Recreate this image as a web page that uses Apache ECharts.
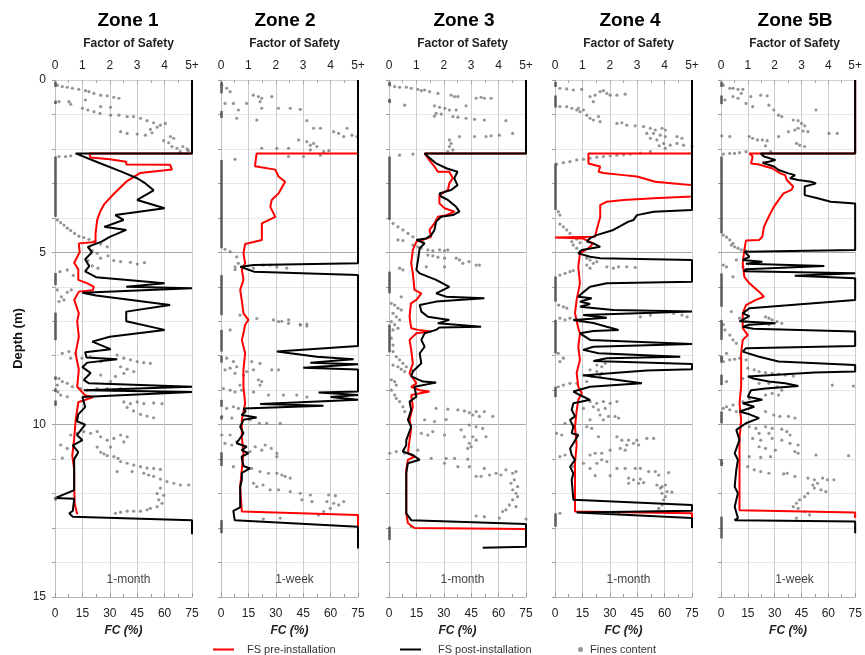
<!DOCTYPE html>
<html>
<head>
<meta charset="utf-8">
<title>Zones FS / FC profiles</title>
<script src="https://cdn.jsdelivr.net/npm/echarts@6/dist/echarts.min.js"></script>
<style>
  html, body { margin: 0; padding: 0; background: #fff; }
  #main { width: 865px; height: 655px; }
</style>
</head>
<body>
<div id="main"></div>
<script>
// ---- data: [FS, depth] for lines, [FC %, depth] for dots, [top, bottom] depth for FC = 0 runs ----
const zoneNames = ['Zone 1', 'Zone 2', 'Zone 3', 'Zone 4', 'Zone 5B'];
const periods = ['1-month', '1-week', '1-month', '1-month', '1-week'];
const fsTicks = [0, 1, 2, 3, 4, '5+'];
const fcTicks = [0, 15, 30, 45, 60, 75];
const depthTicks = [0, 5, 10, 15];

const zone1Pre = [[5,0],[5,2.13],[1.25,2.13],[1.3,2.25],[2.0,2.3],[2.6,2.37],[2.6,2.45],[4.2,2.46],[4.27,2.6],[3.1,2.7],[2.6,2.95],[2.15,3.3],[1.8,3.6],[1.66,3.8],[1.54,4.06],[1.48,4.45],[1.48,4.7],[0.87,4.74],[0.9,5.0],[0.7,5.3],[0.85,5.5],[0.85,5.8],[1.18,5.9],[1.42,6.0],[1.38,6.1],[0.87,6.14],[0.7,6.38],[0.87,6.77],[0.81,7.0],[0.87,7.45],[0.75,7.93],[0.87,8.4],[0.81,8.9],[1.1,9.15],[1.4,9.2],[0.85,9.35],[0.75,9.9],[0.7,10.4],[0.63,10.9],[0.7,11.3],[0.7,11.8],[0.72,12.3],[0.81,12.6]];
const zone1Post = [[5,0],[5,2.13],[0.75,2.13],[1.6,2.4],[2.4,2.65],[3.0,2.85],[3.3,3.0],[3.6,3.2],[3.0,3.48],[4.0,3.72],[2.2,3.92],[2.5,4.06],[1.8,4.26],[2.6,4.35],[2.0,4.55],[1.7,4.69],[1.2,4.84],[1.35,5.0],[1.1,5.2],[1.25,5.4],[1.1,5.55],[1.5,5.72],[4.0,5.9],[2.6,6.0],[5,6.04],[1.0,6.17],[1.5,6.25],[4.2,6.53],[2.6,6.72],[2.6,7.0],[4.0,7.25],[2.0,7.45],[1.36,7.59],[2.03,7.81],[1.1,7.9],[1.15,8.05],[2.27,8.1],[1.18,8.2],[1.0,8.33],[1.3,8.5],[1.05,8.7],[1.24,8.8],[5,8.9],[1.05,9.0],[5,9.05],[1.0,9.2],[1.1,9.49],[0.85,9.7],[0.8,9.9],[1.1,10.0],[0.8,10.3],[1.0,10.45],[0.65,10.6],[0.85,10.8],[0.7,11.0],[0.7,11.5],[0.7,11.9],[0,12.13],[0.7,12.15],[0.65,12.5],[0.52,12.57],[0.65,12.67],[5,12.77],[5,13.18]];
const zone1Fc = [[1.3,0.15],[4,0.19],[6.7,0.21],[9.5,0.24],[13,0.27],[16.7,0.31],[18.6,0.34],[21.3,0.39],[25,0.44],[28.6,0.46],[32.2,0.5],[35,0.53],[2.2,0.63],[7.6,0.63],[8.6,0.7],[16.7,0.58],[15,0.82],[18,0.87],[21.3,0.92],[25,0.77],[30.4,0.79],[24.6,0.97],[30.4,1.02],[35,1.02],[39.5,1.06],[43,1.06],[46.8,1.11],[50.4,1.18],[54,1.24],[57.7,1.31],[60.4,1.26],[55.9,1.37],[52.2,1.43],[35.9,1.5],[39.5,1.55],[45,1.57],[49.5,1.6],[53.1,1.53],[63.2,1.64],[65,1.69],[59.5,1.76],[62.2,1.82],[64,1.93],[66.8,1.98],[70,1.93],[72.3,2.0],[73,2.05],[68.6,2.08],[2.2,2.22],[5.8,2.22],[8.6,2.2],
  [1.3,4.06],[3.1,4.14],[4.9,4.21],[6.7,4.3],[8.6,4.37],[10.7,4.45],[13.1,4.53],[15.8,4.57],[18.6,4.62],[21.3,4.69],[25,4.76],[28.6,4.84],[18.6,4.86],[20.4,4.95],[23.1,5.03],[25,5.17],[29,5.1],[32.2,5.24],[35.9,5.27],[41.3,5.29],[45,5.34],[49,5.3],[18,5.24],[20.4,5.39],[23.5,5.46],[2.7,5.56],[6.7,5.51],[10,5.67],[1.3,6.09],[6.7,6.16],[8.9,6.09],[3.5,6.29],[4.9,6.38],[2.2,6.43],
  [7.6,7.88],[4,7.93],[8.6,8.07],[11.3,7.93],[14.8,8.07],[19.3,8.03],[25,8.17],[30.4,8.12],[34,7.98],[37.7,8.07],[41.3,8.12],[45,8.17],[48.6,8.2],[52.2,8.22],[35.9,8.32],[39.5,8.39],[43.1,8.46],[37.7,8.51],[33.1,8.6],[30.4,8.75],[25,8.56],[2.2,8.66],[4,8.75],[1.3,8.85],[6.7,8.8],[9.5,8.9],[14,8.95],[17.7,9.0],[23,8.95],[28.6,8.95],[32.2,9.0],[35.9,8.95],[39.5,9.0],[43.1,9.0],[1.6,9.05],[3.1,9.14],[6.7,9.19],[37.7,9.34],[41.3,9.39],[45,9.34],[48.6,9.39],[54,9.37],[58.6,9.39],[39.5,9.5],[43,9.6],[46.8,9.7],[50.4,9.75],[54,9.8],
  [12.2,10.25],[15.8,10.2],[19.5,10.25],[23.1,10.2],[25,10.35],[28.6,10.45],[32.2,10.4],[35.9,10.3],[39.5,10.35],[37.7,10.5],[30.4,10.65],[8.6,10.3],[3.1,10.59],[6.7,10.69],[4,10.97],[23.1,10.65],[25,10.8],[26.8,10.85],[28.6,10.9],[32.2,10.93],[34.5,10.98],[35.9,11.07],[39.5,11.12],[43.1,11.17],[46.8,11.22],[50.4,11.26],[54,11.27],[57.7,11.3],[34,11.36],[42.2,11.36],[48.6,11.41],[51.3,11.46],[54,11.5],[57.7,11.58],[61.3,11.65],[65,11.7],[68.6,11.75],[73.2,11.75],[57.7,11.84],[55.9,12.0],[59.5,12.05],[56.8,12.18],[58.6,12.28],[55.9,12.38],[52.2,12.43],[50.4,12.47],[46.8,12.51],[43.1,12.51],[39.5,12.51],[35.9,12.54],[33.1,12.57]];
const zone1Zero = [[0.05,0.2],[0.6,0.7],[2.22,3.97],[5.6,5.95],[6.75,7.55],[8.6,8.7],[8.95,9.05],[9.3,9.45],[12.1,12.2]];

const zone2Pre = [[5,0],[5,2.13],[1.3,2.13],[1.24,2.5],[1.98,2.6],[2.1,2.8],[2.34,2.95],[2.1,3.29],[1.85,3.48],[1.8,3.68],[1.98,3.97],[1.49,4.16],[1.49,4.64],[0.88,4.76],[0.82,5.03],[0.88,5.32],[0.76,5.5],[0.82,5.8],[0.7,6.09],[0.76,6.4],[0.82,6.77],[1.0,6.96],[0.88,7.1],[0.82,7.35],[0.76,7.54],[0.88,7.93],[0.82,8.4],[0.82,8.9],[0.88,9.38],[0.76,9.86],[0.76,10.35],[0.82,10.83],[0.76,11.3],[0.7,11.8],[0.76,12.52],[5,12.62],[5,12.95]];
const zone2Post = [[5,0],[5,5.32],[1.2,5.37],[0.7,5.42],[1.2,5.56],[5,5.66],[5,7.72],[2.04,7.88],[1.98,7.93],[3.5,8.03],[4.84,8.1],[3.26,8.2],[5,8.25],[3.0,8.35],[5,8.4],[5,9.04],[3.56,9.07],[5,9.14],[4.0,9.2],[5,9.28],[5,9.33],[1.43,9.4],[3.74,9.45],[0.82,9.53],[0.9,9.62],[0.75,9.72],[1.3,9.79],[0.82,9.86],[0.7,10.06],[0.82,10.25],[0.57,10.54],[0.94,10.64],[0.75,10.74],[1.0,10.83],[0.75,10.93],[0.82,11.2],[1.06,11.27],[0.76,11.4],[0.76,11.6],[0.7,11.8],[0.7,12.4],[0.45,12.5],[0.5,12.77],[5,12.96],[5,13.59]];
const zone2Fc = [[0.4,0.15],[3.1,0.24],[5,0.34],[2.2,0.68],[6.8,0.68],[9.5,0.87],[8.6,1.11],[14,0.68],[17.7,0.44],[20.5,0.48],[22.3,0.53],[21.4,0.63],[27.8,0.48],[22.3,0.82],[19.6,1.16],[31.5,0.82],[37.9,0.82],[43.4,0.85],[47,1.18],[50.7,1.4],[54.4,1.4],[61.7,1.5],[64.4,1.55],[67.2,1.64],[69,1.4],[71.7,1.6],[74.5,1.64],[42.5,1.74],[47,1.79],[48.9,1.89],[50.7,1.84],[52.5,1.93],[48.9,2.03],[56.2,2.08],[59,2.05],[54.4,2.18],[37,1.98],[37,2.22],[45.2,2.22],[30.6,1.98],[22.3,1.98],[7.7,2.3],
  [2.2,4.91],[5,4.98],[8.6,5.13],[7.7,5.42],[9.5,5.32],[23.2,5.37],[26.9,5.37],[30.6,5.42],[36,5.46],[7.7,5.5],[17.8,5.46],[10.4,6.82],[19.6,6.92],[28.7,6.96],[33.3,7.0],[37,6.96],[43.4,7.1],[47,7.08],
  [5,7.25],[31.5,7.01],[37,7.06],[43.4,7.11],[47,7.14],[3.1,8.07],[6.8,8.17],[8.6,8.32],[5,8.36],[2.2,8.41],[7.7,8.51],[12.3,8.56],[14.1,8.46],[17.8,8.41],[16.8,8.17],[21.4,8.22],[27.8,8.41],[31.5,8.41],[22.3,8.75],[21.4,8.85],[20.5,8.7],[10.4,8.85],[1.3,8.95],[5,9.0],[7.7,9.05],[11.3,9.0],[17.8,9.05],[26,9.14],[34.2,9.14],[41.5,9.14],[47,9.2],[6.8,9.48],[3.1,9.53],[9.5,9.53],[0.4,9.76],[5.9,9.81],[15.9,9.86],[21,9.96],[25,9.96],[32.4,9.96],
  [0.4,10.3],[5,10.3],[8.6,10.49],[2.2,10.54],[5.9,10.59],[18.7,10.64],[22.3,10.74],[15.9,10.78],[24.2,10.59],[27.5,10.69],[30.6,10.83],[30.6,10.93],[6.8,11.22],[16.8,11.27],[21.4,11.36],[26,11.41],[30.6,11.41],[33.3,11.46],[35.1,11.5],[37.9,11.55],[17.8,11.7],[19.6,11.8],[23,11.75],[26.9,11.89],[31.5,11.89],[37.9,11.94],[43.4,11.99],[48.9,12.04],[44.3,12.18],[49.8,12.23],[58.9,12.04],[62.6,12.06],[58,12.23],[61.7,12.28],[64.4,12.33],[67.2,12.23],[59.8,12.43],[56.2,12.52],[53.4,12.62],[32.4,12.71],[23.2,12.74]];
const zone2Zero = [[0.05,0.39],[0.9,1.1],[2.32,4.88],[5.66,6.82],[7.25,7.88],[8.0,8.2],[9.28,9.48],[9.75,9.85],[10.8,11.2],[12.77,13.15]];

const zone3Pre = [[5,0],[5,2.13],[1.3,2.13],[1.45,2.3],[1.66,2.51],[1.78,2.66],[2.2,2.66],[2.33,2.85],[2.2,3.0],[2.15,3.19],[1.84,3.34],[1.84,3.58],[2.03,3.72],[2.39,3.82],[2.09,3.92],[1.78,3.97],[1.66,4.16],[1.48,4.35],[1.54,4.55],[1.24,4.64],[1.0,4.69],[0.87,4.93],[0.81,5.32],[0.87,5.61],[0.93,6.09],[1.18,6.19],[1.0,6.38],[0.8,6.48],[0.75,6.87],[0.81,7.2],[1.06,7.25],[1.54,7.3],[1.0,7.35],[0.75,7.54],[0.81,7.83],[0.87,8.22],[0.75,8.51],[1.0,8.8],[0.81,8.9],[1.12,9.0],[1.48,9.04],[0.81,9.14],[0.87,9.48],[0.75,9.86],[0.81,10.1],[0.75,10.45],[0.69,10.83],[0.93,10.93],[0.69,11.02],[0.63,11.3],[0.63,11.8],[0.63,12.57],[0.69,12.86],[0.93,13.0],[5,13.03]];
const zone3Post = [[5,0],[5,2.13],[1.3,2.13],[1.42,2.22],[1.72,2.42],[2.09,2.56],[2.5,2.66],[2.38,2.85],[2.5,3.05],[2.27,3.19],[1.84,3.29],[1.9,3.38],[2.15,3.48],[2.45,3.68],[2.57,3.82],[2.33,3.92],[1.9,3.97],[1.72,4.11],[1.66,4.35],[1.54,4.5],[1.35,4.6],[1.0,4.64],[1.3,4.74],[1.12,4.88],[1.06,5.22],[1.0,5.51],[1.12,5.61],[1.72,5.8],[2.2,6.0],[1.72,6.19],[2.09,6.29],[3.48,6.33],[1.72,6.43],[1.12,6.53],[1.18,6.72],[1.42,6.87],[2.2,6.96],[1.78,7.06],[3.36,7.16],[1.84,7.18],[1.72,7.25],[1.3,7.35],[1.18,7.54],[1.3,7.74],[1.12,7.93],[1.18,8.22],[0.87,8.46],[0.81,8.6],[1.24,8.75],[1.72,8.78],[0.93,8.9],[1.0,9.19],[0.75,9.33],[0.81,9.57],[0.69,9.86],[0.81,10.06],[0.63,10.45],[0.63,10.6],[0.5,10.78],[0.87,10.88],[1.12,11.02],[0.69,11.12],[0.63,11.4],[0.63,11.8],[0.63,12.57],[0.81,12.77],[5,12.88],[5,13.54],[3.42,13.57]];
const zone3Fc = [[0.4,0.15],[3.1,0.19],[5.8,0.21],[9.5,0.21],[12.2,0.24],[15.8,0.27],[17.7,0.31],[19.5,0.29],[22.2,0.34],[26.8,0.39],[34,0.44],[35.9,0.48],[37.7,0.48],[47.7,0.53],[50.4,0.5],[52.2,0.53],[55.9,0.53],[0.4,0.63],[8.6,0.73],[24.9,0.75],[27.7,0.79],[30.6,0.82],[33.1,0.87],[36.8,0.87],[42.2,0.75],[25.8,0.97],[28.6,0.99],[24.9,1.05],[35,1.06],[37.7,1.08],[42.2,1.11],[46.8,1.14],[52.2,1.16],[64,1.18],[53.1,1.64],[55.9,1.62],[60.4,1.6],[67.7,1.55],[38.6,1.64],[46.8,1.64],[33.1,1.74],[34,1.84],[33.1,1.93],[35,2.03],[32.2,2.08],[5.8,2.18],[13.1,2.15],
  [2.2,4.16],[4.9,4.26],[7.6,4.35],[10.4,4.45],[13.1,4.55],[15.8,4.64],[18.6,4.72],[4.9,4.64],[7.6,4.66],[13.1,4.79],[15.8,4.84],[17.7,4.88],[21.3,4.93],[24,4.95],[27.7,4.93],[30.4,4.95],[32.2,4.93],[21.3,5.08],[24,5.1],[26.8,5.14],[30.4,5.17],[36.8,5.17],[38.6,5.22],[40.4,5.32],[43.8,5.27],[47.7,5.37],[49.5,5.37],[20.4,5.42],[30.4,5.42],[7.6,5.51],[5.8,5.46],
  [6.7,6.29],[1.3,6.48],[3.1,6.53],[4.9,6.62],[6.7,6.67],[2.2,6.77],[4,6.87],[5.8,6.96],[1.3,7.01],[3.1,7.1],[4.9,7.2],[2.2,7.25],[1.3,7.49],[2.2,7.69],[2.2,7.88],[4,8.03],[5.8,8.12],[7.6,8.22],[9.5,8.32],[12.2,8.41],[2.2,8.27],[4.9,8.32],[6.7,8.39],[8.6,8.46],[1.3,8.7],[3.1,8.75],[4,8.85],[1.3,9.0],[3.1,9.14],[4,9.24],[5.8,9.33],[7.6,9.48],[8.6,9.62],
  [25.8,9.53],[32.2,9.55],[37.7,9.57],[41.3,9.6],[44,9.65],[47.7,9.62],[52.2,9.62],[45.9,9.72],[49.5,9.76],[56.8,9.76],[19.5,9.86],[24.9,9.91],[31.3,9.85],[44,10.01],[47.7,10.06],[51.3,10.11],[17.7,10.25],[21.3,10.3],[24,10.2],[30.4,10.3],[39.5,10.15],[41.3,10.35],[45.9,10.35],[53.1,10.35],[47.7,10.45],[44,10.54],[43.1,10.69],[45,10.64],[0.4,10.83],[4,10.78],[8.6,10.83],[15.8,10.74],[23.1,10.98],[31.3,10.98],[35.9,10.98],[43.1,11.0],[30.4,11.12],[37.7,11.22],[44,11.22],[52.2,11.27],[47.7,11.5],[50.4,11.5],[55,11.46],[58.6,11.41],[61.3,11.46],[64,11.31],[67.7,11.41],[69.5,11.36],[66.8,11.7],[68.6,11.6],[70.4,11.8],[67.7,11.89],[69.5,11.99],[70.4,12.09],[67.7,12.18],[65.9,12.33],[69.5,12.38],[64,12.47],[62.2,12.52],[60.4,12.71],[52.2,12.67],[47.7,12.65],[75,12.74],[12.2,12.96]];
const zone3Zero = [[0.05,0.15],[0.55,0.65],[2.22,4.06],[5.56,6.19],[7.1,7.9],[12.96,13.35]];

const zone4Pre = [[5,0],[5,2.13],[1.22,2.13],[1.22,2.42],[1.65,2.51],[1.59,2.66],[1.77,2.7],[2.5,2.76],[2.99,2.8],[3.66,2.95],[4.33,3.0],[5,3.05],[5,3.38],[3.6,3.43],[2.5,3.48],[1.89,3.53],[1.65,3.63],[1.65,3.97],[1.52,4.35],[1.46,4.55],[0,4.57],[1.03,4.6],[1.4,4.74],[1.22,4.88],[0.91,5.03],[0.85,5.42],[0.91,5.9],[0.79,6.38],[0.73,6.77],[0.85,7.2],[0.91,7.35],[0.85,7.74],[0.91,8.12],[0.79,8.5],[0.85,8.9],[0.98,9.09],[0.85,9.28],[0.79,9.6],[0.73,10.06],[0.79,10.6],[0.73,11.1],[0.73,11.8],[0.73,12.52],[5,12.57],[5,12.77]];
const zone4Post = [[5,0],[5,3.77],[3.6,3.82],[2.99,3.92],[2.87,4.06],[2.68,4.11],[2.13,4.35],[1.52,4.5],[1.28,4.59],[1.16,4.69],[1.4,4.74],[1.65,4.84],[1.34,4.88],[0.98,4.93],[0.85,5.03],[1.28,5.13],[1.65,5.17],[5,5.22],[5,5.85],[1.89,5.9],[1.28,6.0],[0.98,6.19],[0.85,6.29],[1.34,6.33],[0.91,6.43],[1.28,6.5],[0.91,6.58],[2.13,6.67],[5,6.72],[1.03,6.82],[1.89,6.9],[0.67,6.96],[1.4,7.05],[1.89,7.16],[2.32,7.25],[1.4,7.28],[0.91,7.35],[1.28,7.54],[5,7.66],[1.4,7.74],[1.03,7.83],[1.59,7.93],[4.57,8.03],[1.89,8.07],[1.4,8.15],[5,8.24],[5,8.39],[3.35,8.43],[2.13,8.5],[1.03,8.57],[1.89,8.66],[3.17,8.8],[1.28,8.9],[0.67,9.04],[0.91,9.14],[1.28,9.28],[0.67,9.38],[0.61,9.57],[0.73,9.76],[0.55,9.86],[0.67,10.06],[0.61,10.25],[0.85,10.3],[0.67,10.54],[0.55,10.69],[0.61,10.88],[0.73,11.02],[0.55,11.22],[0.67,11.41],[0.61,11.6],[0.67,12.18],[5,12.33],[5,12.5],[0.79,12.55],[5,12.71],[5,13.0]];
const zone4Fc = [[2.7,0.24],[6.4,0.26],[10,0.29],[14.6,0.27],[19.2,0.48],[22,0.44],[24.7,0.34],[26.5,0.31],[28.4,0.39],[30.2,0.44],[33.9,0.44],[38.4,0.41],[21,0.63],[2.7,0.77],[6.4,0.77],[9.2,0.82],[11.9,0.87],[13.7,0.92],[15.6,0.87],[12.8,0.82],[17.4,1.02],[19.2,1.11],[23.8,1.06],[21,1.16],[24.7,1.21],[33.9,1.26],[36.6,1.24],[39.3,1.31],[43.9,1.33],[48.5,1.35],[52.2,1.4],[54.9,1.45],[58.6,1.4],[60.4,1.45],[50.3,1.55],[53.9,1.55],[57.6,1.6],[60.4,1.64],[52.2,1.69],[55.8,1.74],[59.5,1.84],[60.4,1.98],[66.8,1.64],[69.5,1.69],[66.8,1.84],[70.4,1.89],[75,1.93],[57,1.91],[63.1,1.89],
  [0.9,2.44],[4.6,2.4],[8.2,2.37],[11.9,2.32],[15.6,2.3],[19.2,2.27],[22.9,2.24],[26.5,2.22],[30.2,2.2],[33.9,2.18],[37.5,2.17],[41.2,2.15],[46.7,2.12],[52.2,2.08],
  [1.8,3.82],[2.7,3.92],[2.7,4.18],[4.6,4.26],[6.4,4.35],[8.2,4.45],[10,4.56],[11.9,4.62],[13.7,4.72],[9.2,4.69],[10,4.79],[11.9,4.88],[13.7,4.98],[17.4,5.17],[19.2,5.22],[21,5.32],[17.4,5.37],[22.9,5.27],[28.4,5.42],[32,5.46],[34.8,5.42],[39.3,5.42],[43.9,5.44],[19.2,5.46],[2.7,5.66],[5.5,5.61],[8.2,5.56],[10,5.53],
  [4.6,6.58],[2,6.53],[6.5,6.62],[2.7,6.91],[5.5,6.96],[8.2,6.91],[11,6.96],[13.7,7.0],[46.7,6.87],[52.2,6.82],[56.7,6.72],[61.3,6.72],[65,6.77],[69.5,6.82],[72.3,6.87],
  [1.8,7.93],[4.6,8.07],[2.7,8.17],[22.9,8.27],[25.6,8.32],[27.5,8.22],[19.2,8.41],[22.9,8.46],[25.6,8.51],[15.6,8.56],[20.1,8.6],[24.7,8.6],[17.4,8.75],[11.9,8.8],[8.2,8.8],[4.6,8.85],[1.8,8.9],[19.2,9.33],[22.9,9.38],[26.5,9.33],[30.2,9.38],[33.9,9.33],[15.6,9.53],[21,9.48],[23.8,9.57],[27.5,9.53],[24.7,9.72],[29.3,9.76],[32.9,9.76],[34.8,9.81],[19.2,9.86],[26.5,9.86],[5.5,9.96],[10.1,10.01],[17.4,10.06],[20.1,10.11],
  [0.9,10.25],[3.7,10.3],[23.8,10.35],[33.9,10.35],[36.6,10.45],[40.3,10.45],[44.8,10.45],[50.3,10.4],[54,10.4],[39.3,10.59],[43,10.54],[45.8,10.59],[35.7,10.69],[38.4,10.74],[30.2,10.74],[2.7,10.93],[5.5,10.88],[19.2,10.88],[22,10.83],[25.6,10.83],[25.6,11.02],[22.9,11.12],[28.4,11.07],[15.6,11.12],[10,11.22],[19.2,11.27],[33.9,11.27],[38.4,11.27],[43.9,11.27],[46.7,11.27],[51.3,11.36],[54.9,11.36],[62.2,11.39],[56.8,11.46],[22,11.48],[30.2,11.48],[40.3,11.55],[43,11.6],[45.8,11.7],[46.7,11.58],[40.3,11.7],[48.5,11.68],[55.8,11.75],[58.6,11.8],[60.4,11.75],[57.7,11.84],[61.3,11.94],[58.6,11.99],[64,11.96],[60.4,12.09],[59.5,12.18],[58.6,12.33],[56.8,12.43],[62.2,12.52],[34.8,12.55],[2.7,12.57]];
const zone4Zero = [[0.05,0.2],[0.45,0.8],[2.42,3.77],[5.7,6.43],[6.96,7.93],[8.9,9.2],[12.57,12.96]];

const zone5Pre = [[5,0],[5,2.13],[1.06,2.13],[1.18,2.22],[1.12,2.42],[1.42,2.45],[1.66,2.51],[1.9,2.56],[2.21,2.71],[2.39,2.76],[2.45,2.9],[2.69,3.09],[2.63,3.19],[2.33,3.29],[2.15,3.48],[1.97,3.68],[1.84,3.87],[1.72,4.06],[1.6,4.26],[1.54,4.55],[1.42,4.64],[0.93,4.66],[0.87,4.93],[0.81,5.32],[0.87,5.71],[1.06,5.9],[1.48,6.19],[1.6,6.29],[1.3,6.38],[0.93,6.53],[0.81,6.77],[0.81,7.2],[1.0,7.4],[0.81,7.54],[0.75,7.93],[0.75,8.4],[0.75,8.9],[0.69,9.38],[0.75,9.86],[0.69,10.4],[0.69,10.83],[0.69,11.3],[0.69,11.8],[0.69,12.48],[5,12.55],[5,12.71]];
const zone5Post = [[5,0],[5,2.13],[1.48,2.13],[1.6,2.22],[2.03,2.32],[1.78,2.37],[1.55,2.4],[1.48,2.42],[1.97,2.51],[2.15,2.61],[2.51,2.71],[2.76,2.76],[2.57,2.85],[2.88,2.9],[3.36,2.95],[3.54,3.0],[3.12,3.09],[3.12,3.34],[3.6,3.43],[4.09,3.53],[5,3.58],[5,4.93],[0.87,4.98],[1.06,5.13],[0.81,5.22],[1.54,5.27],[0.93,5.33],[3.85,5.4],[0.93,5.49],[0.85,5.55],[5,5.61],[2.75,5.68],[5,5.75],[5,6.38],[1.06,6.62],[0.81,6.77],[1.06,6.85],[0.69,7.0],[2.03,7.06],[1.06,7.1],[0.81,7.16],[1.2,7.22],[5,7.3],[5,7.72],[0.93,7.78],[0.81,7.88],[1.42,8.03],[2.15,8.17],[5,8.27],[5,8.46],[3.48,8.49],[1.0,8.6],[1.2,8.66],[1.78,8.75],[2.39,8.8],[2.88,8.88],[1.66,8.95],[1.12,9.0],[1.0,9.19],[1.54,9.28],[0.81,9.38],[1.24,9.48],[0.69,9.62],[1.06,9.7],[1.42,9.81],[0.93,9.96],[0.57,10.15],[0.69,10.44],[0.51,10.83],[0.63,11.02],[0.57,11.31],[0.51,11.8],[0.63,11.99],[0.51,12.38],[0.63,12.71],[0.51,12.77],[5,12.81],[5,13.15]];
const zone5Fc = [[1.3,0.15],[4.9,0.24],[6.7,0.24],[9.5,0.27],[12.2,0.27],[11.3,0.39],[6.7,0.48],[2.2,0.58],[9.5,0.53],[16.7,0.48],[22.2,0.44],[25.8,0.46],[14,0.68],[17.7,0.77],[26.8,0.73],[29.5,0.87],[32.2,1.02],[34,1.06],[40.4,1.16],[43.1,1.18],[45,1.26],[46.8,1.33],[43.1,1.4],[41.3,1.45],[37.7,1.5],[45.9,1.48],[48.6,1.5],[53.1,0.87],[32.2,1.64],[15.8,1.64],[17.7,1.69],[20.4,1.74],[23.1,1.74],[25.8,1.76],[0.4,1.62],[4.9,1.64],[42.2,1.84],[44,1.89],[46.8,1.93],[24.9,1.91],[27.7,2.08],[60.4,1.55],[65,1.55],[1.3,2.15],[4.9,2.13],[7.6,2.13],[10.4,2.11],[14,2.08],
  [1.3,4.5],[3.1,4.56],[4.9,4.64],[6.7,4.74],[7.6,4.84],[9.5,4.88],[11.3,4.93],[14,4.95],[5.8,4.79],[1.3,5.37],[3.1,5.42],[6.7,5.71],[8.6,5.22],[12.2,5.42],[14,5.51],[5.8,6.72],[10.4,6.91],[14,7.01],[24.9,6.87],[26.8,6.91],[28.6,6.96],[31.3,7.01],[34,7.06],[26.8,7.1],[1.3,7.1],
  [2.2,7.25],[4.9,7.4],[6.7,7.54],[8.6,7.64],[3.1,7.93],[0.4,8.07],[1.3,8.17],[4.9,8.12],[7.6,8.1],[10.4,8.07],[14,8.12],[15,8.36],[18.6,8.41],[21.3,8.46],[24.9,8.49],[28.6,8.51],[32.2,8.53],[35.9,8.56],[40.4,8.59],[3.1,8.75],[12.2,8.66],[21.3,8.8],[26.8,8.8],[31.3,8.9],[34,9.0],[24.9,9.14],[28.6,9.09],[32.2,9.14],[62.2,8.85],[74,8.88],[15.8,9.24],[12.2,9.33],[6.7,9.43],[3.1,9.48],[1.3,9.53],[4.9,9.57],[8.6,9.62],[24.9,9.62],[29.5,9.72],[32.9,9.76],[37.7,9.76],[41.3,9.81],
  [15.8,10.06],[19.5,10.11],[24.9,10.06],[28.6,10.11],[34,10.13],[36.8,10.2],[38.6,10.3],[21.3,10.25],[26.8,10.25],[17.7,10.4],[22.2,10.45],[28.6,10.4],[34,10.45],[38.6,10.54],[43.1,10.59],[21.3,10.64],[24.9,10.69],[30.4,10.74],[41.3,10.78],[43.1,10.83],[53.1,10.88],[71.3,10.9],[15.8,10.93],[22.2,10.95],[27.7,10.93],[0.4,11.12],[14.9,11.22],[18.6,11.31],[22.2,11.36],[26.8,11.41],[35,11.43],[37,11.41],[41.3,11.5],[48.6,11.55],[52.2,11.6],[56.8,11.55],[51.3,11.75],[54,11.7],[59.5,11.6],[63.1,11.6],[52.2,11.84],[55.9,11.89],[58.6,11.94],[48.6,11.99],[46.8,12.09],[44,12.18],[42.2,12.28],[40.4,12.38],[43.1,12.43],[46.8,12.52],[49.5,12.62],[42.2,12.71]];
const zone5Zero = [[0.05,0.2],[0.45,0.7],[2.22,4.45],[5.61,6.58],[6.96,7.54],[8.0,8.2],[8.55,8.85],[9.62,9.96],[11.0,11.2],[12.67,13.3]];

const preSets = [zone1Pre, zone2Pre, zone3Pre, zone4Pre, zone5Pre];
const postSets = [zone1Post, zone2Post, zone3Post, zone4Post, zone5Post];
const fcSets = [zone1Fc, zone2Fc, zone3Fc, zone4Fc, zone5Fc];
const zeroSets = [zone1Zero, zone2Zero, zone3Zero, zone4Zero, zone5Zero];

// ---- layout ----
const gridLeft = [55, 221, 389, 555, 721];
const gridWidth = 137;
const gridTop = 80;
const gridHeight = 517;
const titleX = [123, 280, 459, 625, 790];
const FONT = '"Liberation Sans", Arial, sans-serif';

const chart = echarts.init(document.getElementById('main'));

const grids = [];
const xAxes = [];
const yAxes = [];
const series = [];
const titles = [];

zoneNames.forEach(function (zone, i) {
  const cx = gridLeft[i] + gridWidth / 2;
  grids.push({ left: gridLeft[i], top: gridTop, width: gridWidth, height: gridHeight });

  // top axis: factor of safety
  xAxes.push({
    gridIndex: i, type: 'value', position: 'top', min: 0, max: 5, interval: 1,
    axisLine: { show: true, lineStyle: { color: '#d0d0d0' } },
    axisTick: { show: true, inside: true, length: 4, lineStyle: { color: '#aaa' } },
    minorTick: { show: true, splitNumber: 2, length: 3, lineStyle: { color: '#aaa' } },
    splitLine: { show: true, lineStyle: { color: '#cdcdcd', width: 1 } },
    axisLabel: { margin: 8, fontSize: 12, color: '#222', fontFamily: FONT,
      formatter: function (v) { return String(fsTicks[v]); } }
  });
  // bottom axis: fines content
  xAxes.push({
    gridIndex: i, type: 'value', position: 'bottom', min: 0, max: 75, interval: 15,
    name: 'FC (%)', nameLocation: 'middle', nameGap: 27,
    nameTextStyle: { fontStyle: 'italic', fontWeight: 'bold', fontSize: 12, color: '#222', fontFamily: FONT },
    axisLine: { show: true, lineStyle: { color: '#b5b5b5' } },
    axisTick: { show: true, inside: true, length: 4, lineStyle: { color: '#999' } },
    minorTick: { show: true, splitNumber: 2, length: 3, lineStyle: { color: '#999' } },
    splitLine: { show: false },
    axisLabel: { margin: 11, fontSize: 12, color: '#222', fontFamily: FONT,
      formatter: function (v) { return fcTicks.indexOf(v) >= 0 ? String(v) : ''; } }
  });

  yAxes.push({
    gridIndex: i, type: 'value', inverse: true, min: 0, max: 15, interval: 1,
    name: i === 0 ? 'Depth (m)' : '', nameLocation: 'middle', nameGap: 30, nameRotate: 90,
    nameTextStyle: { fontWeight: 'bold', fontSize: 13, color: '#111', fontFamily: FONT },
    axisLine: { show: true, lineStyle: { color: '#bdbdbd' } },
    axisTick: { show: true, length: 3, lineStyle: { color: '#999' } },
    axisLabel: { show: i === 0, margin: 9, fontSize: 12, color: '#222', fontFamily: FONT,
      formatter: function (v) { return depthTicks.indexOf(v) >= 0 ? String(v) : ''; } },
    splitLine: { show: true, lineStyle: { color: ['#a8a8a8', '#e7e7e7', '#e7e7e7', '#e7e7e7', '#e7e7e7'] } }
  });

  series.push({
    name: 'Fines content', type: 'scatter', xAxisIndex: 2 * i + 1, yAxisIndex: i,
    data: fcSets[i], symbolSize: 3.2, itemStyle: { color: '#7a7a7a' }, z: 1, silent: true,
    markLine: {
      silent: true, symbol: ['none', 'none'], label: { show: false },
      lineStyle: { color: '#5a5a5a', width: 2.5, type: 'solid' },
      data: zeroSets[i].map(function (r) { return [{ coord: [0, r[0]] }, { coord: [0, r[1]] }]; })
    }
  });
  series.push({
    name: 'FS pre-installation', type: 'line', xAxisIndex: 2 * i, yAxisIndex: i,
    data: preSets[i], showSymbol: false, symbol: 'none', clip: false, z: 2,
    lineStyle: { color: '#ff0000', width: 2 }, itemStyle: { color: '#ff0000' }
  });
  series.push({
    name: 'FS post-installation', type: 'line', xAxisIndex: 2 * i, yAxisIndex: i,
    data: postSets[i], showSymbol: false, symbol: 'none', clip: false, z: 3,
    lineStyle: { color: '#000', width: 2 }, itemStyle: { color: '#000' }
  });

  titles.push({
    text: zone, left: titleX[i], top: 6, textAlign: 'center',
    textStyle: { fontSize: 19, fontWeight: 'bold', color: '#000', fontFamily: FONT }
  });
  titles.push({
    text: 'Factor of Safety', left: cx, top: 33, textAlign: 'center',
    textStyle: { fontSize: 12, fontWeight: 'bold', color: '#222', fontFamily: FONT }
  });
  titles.push({
    text: periods[i], left: cx, top: 569, textAlign: 'center',
    textStyle: { fontSize: 12, fontWeight: 'normal', color: '#444', fontFamily: FONT }
  });
});

const legendText = { fontSize: 11, color: '#333', fontFamily: FONT };
const options = {
  animation: false,
  backgroundColor: '#fff',
  title: titles,
  grid: grids,
  xAxis: xAxes,
  yAxis: yAxes,
  legend: [
    { left: 208, top: 639, itemWidth: 21, itemHeight: 2, icon: 'rect', selectedMode: false,
      data: ['FS pre-installation'], textStyle: Object.assign({ padding: [0, 0, 0, 8] }, legendText) },
    { left: 395, top: 639, itemWidth: 21, itemHeight: 2, icon: 'rect', selectedMode: false,
      data: ['FS post-installation'], textStyle: Object.assign({ padding: [0, 0, 0, 12] }, legendText) },
    { left: 573, top: 639, itemWidth: 5, itemHeight: 5, icon: 'circle', selectedMode: false,
      data: ['Fines content'], textStyle: Object.assign({ padding: [0, 0, 0, 2] }, legendText) }
  ],
  series: series
};

chart.setOption(options);
</script>
</body>
</html>
